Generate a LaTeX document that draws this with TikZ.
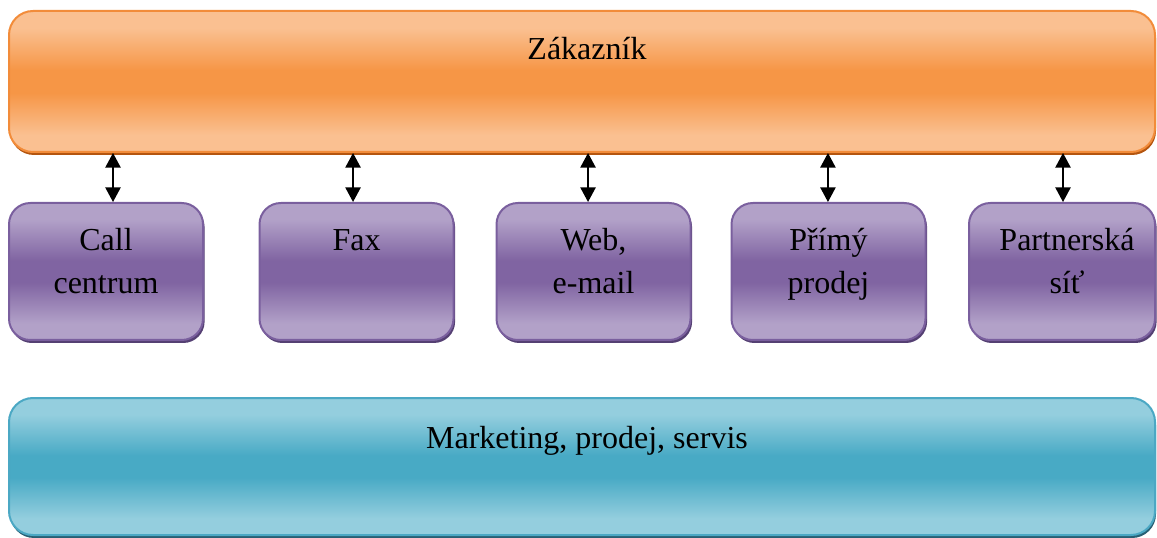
\documentclass[tikz,border=0pt]{standalone}
\usepackage{fontspec}
\setmainfont{Liberation Serif}
\newfontfamily\tmsfont{Liberation Serif}
\usetikzlibrary{arrows.meta,shadows}
\definecolor{orL}{RGB}{250,192,145}
\definecolor{orM}{RGB}{246,150,70}
\definecolor{orD}{RGB}{242,140,58}
\definecolor{orS}{RGB}{180,85,15}
\definecolor{puL}{RGB}{178,161,200}
\definecolor{puM}{RGB}{128,100,162}
\definecolor{puD}{RGB}{122,95,158}
\definecolor{puS}{RGB}{85,64,115}
\definecolor{teL}{RGB}{148,206,222}
\definecolor{teM}{RGB}{72,170,197}
\definecolor{teD}{RGB}{75,168,196}
\definecolor{teS}{RGB}{40,95,115}
\pgfdeclareverticalshading{orshade}{100bp}{color(0bp)=(orL); color(25bp)=(orL); color(31bp)=(orL); color(46bp)=(orM); color(54bp)=(orM); color(69bp)=(orL); color(75bp)=(orL); color(100bp)=(orL)}
\pgfdeclareverticalshading{pushade}{100bp}{color(0bp)=(puL); color(25bp)=(puL); color(31bp)=(puL); color(46bp)=(puM); color(54bp)=(puM); color(69bp)=(puL); color(75bp)=(puL); color(100bp)=(puL)}
\pgfdeclareverticalshading{teshade}{100bp}{color(0bp)=(teL); color(25bp)=(teL); color(31bp)=(teL); color(46bp)=(teM); color(54bp)=(teM); color(69bp)=(teL); color(75bp)=(teL); color(100bp)=(teL)}
\tikzset{
  obox/.style={rectangle, rounded corners=18pt, draw=orD, line width=1.5pt, shading=orshade,
    minimum width=859.5pt, minimum height=105.75pt, inner sep=0pt,
    drop shadow={shadow xshift=0.75pt, shadow yshift=-2.25pt, fill=orS, opacity=1}},
  pbox/.style={rectangle, rounded corners=16pt, draw=puD, line width=1.5pt, shading=pushade,
    minimum width=145.5pt, minimum height=102.75pt, inner sep=0pt,
    drop shadow={shadow xshift=1.2pt, shadow yshift=-2.25pt, fill=puS, opacity=1}},
  tbox/.style={rectangle, rounded corners=18pt, draw=teD, line width=1.5pt, shading=teshade,
    minimum width=859.5pt, minimum height=102.75pt, inner sep=0pt,
    drop shadow={shadow xshift=0.75pt, shadow yshift=-2.25pt, fill=teS, opacity=1}},
  lbl/.style={align=center, inner sep=0pt, font=\tmsfont\fontsize{24pt}{32pt}\selectfont,
    execute at begin node={\rule{0pt}{20pt}}, execute at end node={\rule[-7pt]{0pt}{7pt}}},
  biarrow/.style={line width=1.1pt, {Triangle[width=11.5pt,length=11pt]}-{Triangle[width=11.5pt,length=11pt]}}
}
\begin{document}
\begin{tikzpicture}[x=0.75pt,y=-0.75pt]
\useasboundingbox (0,0) rectangle (1157,538);
\node[obox] (top) at (582,81.5) {};
\node[lbl] (topt) at (587,51) {Zákazník};
\node[pbox] (c1) at (106,271.5) {};
\node[pbox] (c2) at (356.5,271.5) {};
\node[pbox] (c3) at (593.5,271.5) {};
\node[pbox] (c4) at (828.5,271.5) {};
\node[pbox, minimum width=139.5pt] (c5) at (1062,271.5) {};
\node[lbl] (t1) at (106,265.5) {Call\\centrum};
\node[lbl] (t2) at (356.5,242) {Fax};
\node[lbl] (t3) at (593.5,265.5) {Web,\\e-mail};
\node[lbl] (t4) at (828.5,265.5) {Přímý\\prodej};
\node[lbl] (t5) at (1067,265.5) {Partnerská\\síť};
\node[tbox] (bot) at (582,466.5) {};
\node[lbl] (bott) at (587,440) {Marketing, prodej, servis};
\foreach \i/\dx in {1/5.25,2/-2.6,3/-4.1,4/-0.4,5/0.75}{
  \draw[biarrow] ([xshift=\dx pt]top.south -| c\i.north) -- ([xshift=\dx pt]c\i.north);
}
\end{tikzpicture}
\end{document}
